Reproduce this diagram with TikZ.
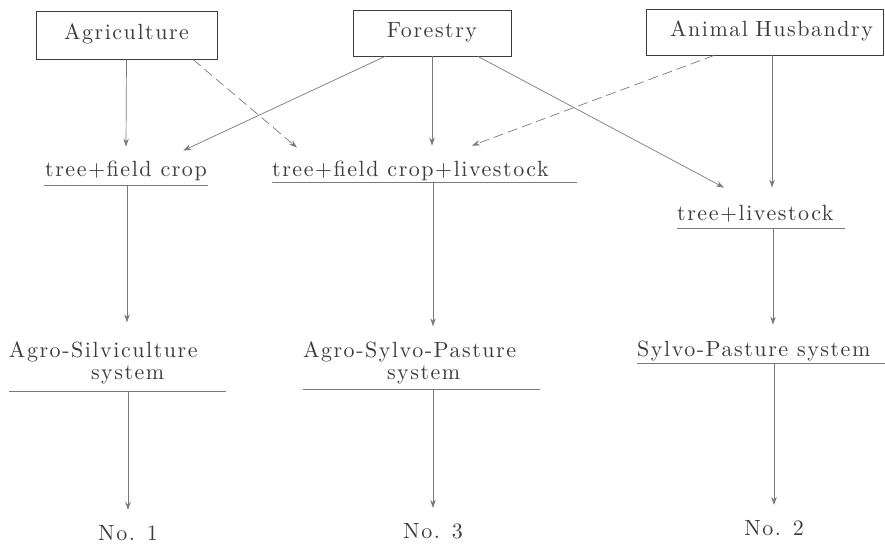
\documentclass[tikz,border=0pt]{standalone}
\usepackage{fontspec}
\setmainfont{lmroman10-regular.otf}[LetterSpace=7]
\usetikzlibrary{arrows.meta}
\definecolor{ink}{HTML}{3C3C3C}
\definecolor{wire}{HTML}{7A7A7A}
\newcommand{\plussign}{\kern1.5pt+\kern1.5pt}
\tikzset{
  every node/.style={font=\fontsize{22}{22}\selectfont, text=ink, inner sep=0pt},
  box/.style={draw=ink, line width=0.9pt, rectangle, text height=15pt, text depth=5pt},
  ultext/.style={anchor=south, inner xsep=0pt, text height=15pt, text depth=5pt},
  ulleft/.style={ultext, anchor=south west},
  ulblock/.style={anchor=south, inner xsep=0pt, align=left},
  uline/.style={draw=wire, line width=0.8pt},
  arr/.style={draw=wire, line width=0.7pt, -{Stealth[length=8pt,width=5.5pt]}},
  darr/.style={arr, dash pattern=on 10pt off 5pt},
  numlab/.style={anchor=north, text height=15pt, text depth=5pt}
}
\begin{document}
\begin{tikzpicture}[x=1pt,y=-1pt]
\useasboundingbox (0,0) rectangle (885,545);
% source boxes
\node[box, minimum width=181pt, minimum height=48pt] (agr) at (126.5,35) {Agriculture};
\node[box, minimum width=158pt, minimum height=46pt] (for) at (432,33) {Forestry};
\node[box, minimum height=46pt, text width=217pt, inner xsep=10pt, align=right] (ah) at (764.5,32) {Animal Husbandry};
% combinations
\node[ultext, minimum width=164pt, inner ysep=3pt] (tfc) at (126,185) {tree\plussign field crop};
\node[ulleft, inner ysep=0pt] (tfcl) at (272,182) {tree\plussign field crop\plussign livestock};
\node[ulleft, inner ysep=2pt] (tl) at (677,228) {tree\plussign livestock};
% systems
\node[ulblock, text width=217pt, inner ysep=7pt] (as) at (117.5,391) {Agro-Silviculture\\\hspace*{82pt}system};
\node[ulblock, text width=237pt, inner ysep=5pt] (asp) at (421.5,389) {Agro-Sylvo-Pasture\\\hspace*{84pt}system};
\node[ulleft, inner ysep=1pt] (sp) at (637,363) {Sylvo-Pasture system};
% numbers
\node[numlab] (n1) at (128,525) {No. 1};
\node[numlab] (n3) at (433,523) {No. 3};
\node[numlab] (n2) at (774,520) {No. 2};
% underlines
\draw[uline] (tfc.south west) -- (tfc.south east);
\draw[uline] (tfcl.south west) -- ++(305,0);
\draw[uline] (tl.south west) -- ++(168,0);
\draw[uline] (as.south west) -- (as.south east);
\draw[uline] (asp.south west) -- (asp.south east);
\draw[uline] (sp.south west) -- ++(248,0);
% connectors from the sources
\draw[arr] (agr.south) -- ([yshift=12pt]tfc.north);
\draw[darr] ([xshift=66.5pt]agr.south) -- ([xshift=25pt,yshift=14pt]tfcl.north west);
\draw[arr] ([xshift=-47pt]for.south) -- ([xshift=-25pt,yshift=8pt]tfc.north east);
\draw[arr] (for.south) -- ([xshift=160pt,yshift=16pt]tfcl.north west);
\draw[arr] ([xshift=46pt]for.south) -- ([xshift=47pt,yshift=16pt]tl.north west);
\draw[darr] ([xshift=-50.5pt]ah.south) -- ([xshift=200pt,yshift=16pt]tfcl.north west);
\draw[arr] ([xshift=7.5pt]ah.south) -- ([xshift=95pt,yshift=16pt]tl.north west);
% combinations to systems
\draw[arr] ([xshift=1pt]tfc.south) -- ([xshift=9.5pt,yshift=12pt]as.north);
\draw[arr] ([xshift=161pt]tfcl.south west) -- ([xshift=11.5pt,yshift=10pt]asp.north);
\draw[arr] ([xshift=96pt]tl.south west) -- ([xshift=136pt,yshift=16pt]sp.north west);
% systems to numbers
\draw[arr] ([xshift=10.5pt]as.south) -- ([yshift=15pt]n1.north);
\draw[arr] ([xshift=11.5pt]asp.south) -- ([yshift=15pt]n3.north);
\draw[arr] ([xshift=137pt]sp.south west) -- ([yshift=15pt]n2.north);
\end{tikzpicture}
\end{document}
